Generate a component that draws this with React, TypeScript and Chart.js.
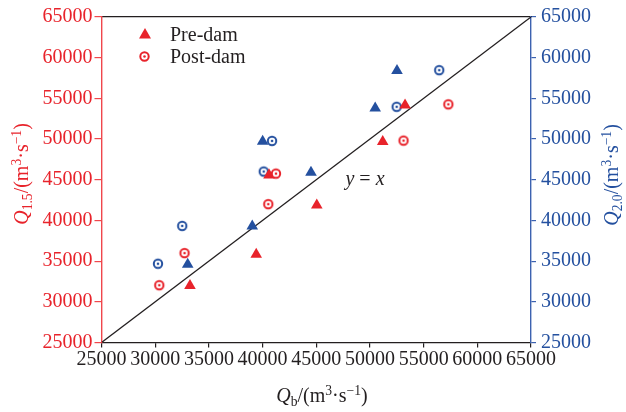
import React, { useEffect, useRef } from "react";
import { Chart, registerables } from "chart.js";
Chart.register(...registerables);

// Pre-dam (triangles)
const preDamQb20 = [33030, 39040, 40010, 44510, 50490, 52520];
const preDamQ20 = [34590, 39300, 49710, 45890, 53790, 58410];
const preDamQb15 = [33240, 39410, 40600, 45050, 51190, 53270];
const preDamQ15 = [31980, 35820, 45580, 41870, 49680, 54160];
// Post-dam (circles)
const postDamQb20 = [30260, 32520, 40110, 40880, 52490, 56450];
const postDamQ20 = [34680, 39330, 46010, 49770, 53970, 58470];
const postDamQb15 = [30380, 32730, 40530, 41250, 53130, 57300];
const postDamQ15 = [32040, 35990, 42000, 45760, 49810, 54270];

const axisTicks = [25000, 30000, 35000, 40000, 45000, 50000, 55000, 60000, 65000];
const identityLine = [25000, 65000];

const RED = "#e8232b";
const BLUE = "#24509f";
const RED_AXIS = "#f0474c";
const BLUE_AXIS = "#3c62b0";
const DARK = "#231f20";
const FONT = "'Liberation Serif', 'Times New Roman', serif";

function circleMarker(color: string): HTMLCanvasElement {
  const c = document.createElement("canvas");
  c.width = 14;
  c.height = 14;
  const ctx = c.getContext("2d")!;
  ctx.beginPath();
  ctx.arc(7, 7, 4.2, 0, Math.PI * 2);
  ctx.fillStyle = "#ffffff";
  ctx.fill();
  ctx.lineWidth = 2;
  ctx.strokeStyle = color;
  ctx.stroke();
  ctx.beginPath();
  ctx.arc(7, 7, 1.3, 0, Math.PI * 2);
  ctx.fillStyle = color;
  ctx.fill();
  return c;
}

const pts = (xs: number[], ys: number[]) => xs.map((x, i) => ({ x, y: ys[i] }));

const setTicks = (scale: any) => {
  scale.ticks = axisTicks.map((v) => ({ value: v }));
};

export default function App() {
  const ref = useRef<HTMLCanvasElement | null>(null);

  useEffect(() => {
    if (!ref.current) return;
    const redCircle = circleMarker(RED);
    const blueCircle = circleMarker(BLUE);
    const tickFont = { family: FONT, size: 20 };
    const chart = new Chart(ref.current, {
      type: "scatter",
      data: {
        datasets: [
          {
            label: "Post-dam Q1.5",
            data: pts(postDamQb15, postDamQ15),
            pointStyle: redCircle as any,
            pointRadius: 5,
            xAxisID: "x",
            yAxisID: "y",
          },
          {
            label: "Pre-dam Q1.5",
            data: pts(preDamQb15, preDamQ15),
            pointStyle: "triangle",
            pointRadius: 6.7,
            backgroundColor: RED,
            borderColor: RED,
            borderWidth: 0,
            xAxisID: "x",
            yAxisID: "y",
          },
          {
            label: "Post-dam Q2.0",
            data: pts(postDamQb20, postDamQ20),
            pointStyle: blueCircle as any,
            pointRadius: 5,
            xAxisID: "x",
            yAxisID: "y2",
          },
          {
            label: "Pre-dam Q2.0",
            data: pts(preDamQb20, preDamQ20),
            pointStyle: "triangle",
            pointRadius: 6.7,
            backgroundColor: BLUE,
            borderColor: BLUE,
            borderWidth: 0,
            xAxisID: "x",
            yAxisID: "y2",
          },
          {
            label: "y = x",
            data: identityLine.map((v) => ({ x: v, y: v })),
            showLine: true,
            borderColor: DARK,
            borderWidth: 1.3,
            pointRadius: 0,
            xAxisID: "x",
            yAxisID: "y",
          },
        ],
      },
      options: {
        animation: false,
        responsive: false,
        events: [],
        layout: { padding: { top: 16, left: 0, right: 0, bottom: 0 } },
        plugins: { legend: { display: false }, tooltip: { enabled: false } },
        scales: {
          x: {
            type: "linear",
            position: "bottom",
            min: 25000,
            max: 65000,
            afterBuildTicks: setTicks,
            afterFit: (s: any) => {
              s.height = 69.5;
            },
            ticks: {
              color: DARK,
              font: tickFont,
              padding: 0,
              autoSkip: false,
              maxRotation: 0,
              callback: (v: any) => String(v),
            },
            grid: { drawOnChartArea: false, tickLength: 5, color: DARK, lineWidth: 1.2 },
            border: { color: DARK, width: 1.3 },
          },
          x2: {
            type: "linear",
            position: "top",
            min: 25000,
            max: 65000,
            afterFit: (s: any) => {
              s.height = 0;
            },
            ticks: { display: false },
            grid: { drawOnChartArea: false, drawTicks: false },
            border: { color: DARK, width: 1.3 },
          },
          y: {
            type: "linear",
            position: "left",
            min: 25000,
            max: 65000,
            afterBuildTicks: setTicks,
            afterFit: (s: any) => {
              s.width = 101.5;
            },
            ticks: {
              color: RED,
              font: tickFont,
              padding: 2,
              callback: (v: any) => String(v),
            },
            grid: { drawOnChartArea: false, tickLength: 7, color: RED_AXIS, lineWidth: 1.2 },
            border: { color: RED_AXIS, width: 1.4 },
          },
          y2: {
            type: "linear",
            position: "right",
            min: 25000,
            max: 65000,
            afterBuildTicks: setTicks,
            afterFit: (s: any) => {
              s.width = 95;
            },
            ticks: {
              color: BLUE,
              font: tickFont,
              padding: 5,
              callback: (v: any) => String(v),
            },
            grid: { drawOnChartArea: false, tickLength: 5, color: BLUE_AXIS, lineWidth: 1.2 },
            border: { color: BLUE_AXIS, width: 1.4 },
          },
        },
      } as any,
    });
    return () => chart.destroy();
  }, []);

  const txt: React.CSSProperties = {
    position: "absolute",
    fontFamily: FONT,
    fontSize: 20,
    whiteSpace: "nowrap",
    lineHeight: 1,
  };
  const sub: React.CSSProperties = { fontSize: "0.68em", verticalAlign: "-0.28em", lineHeight: 0 };
  const sup: React.CSSProperties = { fontSize: "0.68em", verticalAlign: "0.5em", lineHeight: 0 };

  return (
    <div style={{ position: "absolute", left: 0, top: 0, width: 626, height: 412, background: "#fff" }}>
      <canvas ref={ref} width={626} height={412} style={{ position: "absolute", left: 0, top: 0 }} />
      {/* Legend */}
      <svg style={{ position: "absolute", left: 0, top: 0 }} width={626} height={412}>
        <polygon points="139,38.5 151,38.5 145,28" fill={RED} />
        <circle cx={144.5} cy={56.5} r={4.2} fill="#fff" stroke={RED} strokeWidth={2} />
        <circle cx={144.5} cy={56.5} r={1.3} fill={RED} />
      </svg>
      <div style={{ ...txt, left: 170, top: 33.5, transform: "translateY(-50%)", color: DARK }}>Pre-dam</div>
      <div style={{ ...txt, left: 170, top: 55.5, transform: "translateY(-50%)", color: DARK }}>Post-dam</div>
      {/* y = x label */}
      <div style={{ ...txt, left: 365, top: 178, transform: "translate(-50%,-50%)", color: DARK }}>
        <i>y</i> = <i>x</i>
      </div>
      {/* Left axis title */}
      <div style={{ ...txt, left: 21, top: 174, transform: "translate(-50%,-50%) rotate(-90deg)", color: RED }}>
        <i>Q</i>
        <span style={sub}>1.5</span>/(m<span style={sup}>3</span>·s<span style={sup}>−1</span>)
      </div>
      {/* Right axis title */}
      <div style={{ ...txt, left: 611, top: 175, transform: "translate(-50%,-50%) rotate(-90deg)", color: BLUE }}>
        <i>Q</i>
        <span style={sub}>2.0</span>/(m<span style={sup}>3</span>·s<span style={sup}>−1</span>)
      </div>
      {/* X axis title */}
      <div style={{ ...txt, left: 322, top: 395, transform: "translate(-50%,-50%)", color: DARK }}>
        <i>Q</i>
        <span style={sub}>b</span>/(m<span style={sup}>3</span>·s<span style={sup}>−1</span>)
      </div>
    </div>
  );
}
